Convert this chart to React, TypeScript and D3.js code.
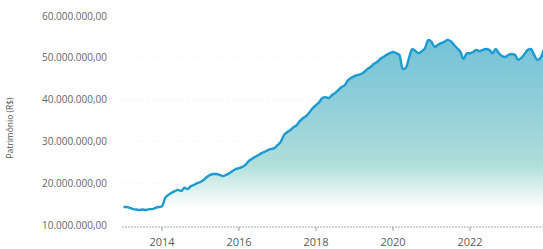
import React from "react";
import * as d3 from "d3";

const startYear = 2013;
const values: number[] = [
  14.3, 14.3, 14.1, 13.8, 13.7, 13.6, 13.7, 13.6, 13.8, 13.8, 14.1, 14.3,
  14.5, 16.5, 17.2, 17.7, 18.1, 18.4, 18.1, 18.9, 18.6, 19.3, 19.6, 20.0,
  20.3, 20.8, 21.5, 22.0, 22.2, 22.2, 22.0, 21.7, 22.0, 22.4, 22.9, 23.4,
  23.6, 23.9, 24.4, 25.3, 25.8, 26.3, 26.7, 27.2, 27.5, 27.9, 28.2, 28.4,
  29.1, 29.9, 31.5, 32.2, 32.7, 33.4, 33.9, 34.9, 35.6, 36.1, 37.0, 38.0,
  38.7, 39.4, 40.4, 40.6, 40.4, 41.1, 41.6, 42.3, 43.0, 43.5, 44.7, 45.2,
  45.6, 45.9, 46.1, 46.6, 47.3, 47.8, 48.5, 49.0, 49.7, 50.2, 50.7, 51.1,
  51.4, 51.1, 50.7, 47.3, 47.6, 50.0, 52.1, 51.6, 51.1, 51.6, 52.3, 54.3,
  53.8, 52.6, 53.1, 53.5, 53.8, 54.3, 54.0, 53.1, 52.3, 51.4, 49.7, 51.1,
  51.1, 51.4, 51.9, 51.6, 51.9, 52.1, 51.9, 51.1, 52.1, 51.1, 50.4, 50.2,
  50.7, 50.9, 50.7, 49.5, 50.0, 50.9, 51.9, 52.1, 50.7, 49.5, 50.0, 51.9,
];
const yTicks: number[] = [10, 20, 30, 40, 50, 60];
const yTickLabels: string[] = [
  "10.000.000,00",
  "20.000.000,00",
  "30.000.000,00",
  "40.000.000,00",
  "50.000.000,00",
  "60.000.000,00",
];
const xTicks: number[] = [2014, 2016, 2018, 2020, 2022];
const yTitle = "Patrimônio (R$)";

const W = 543;
const H = 249;

export default function App() {
  const x = d3.scaleLinear().domain([2014, 2022]).range([162, 470]);
  const y = d3.scaleLinear().domain([10, 60]).range([225, 16]);
  const data = values.map((v, i) => ({ t: startYear + i / 12, v }));
  const baseY = 227;
  const line = d3
    .line<{ t: number; v: number }>()
    .x((d) => x(d.t))
    .y((d) => y(d.v))
    .curve(d3.curveMonotoneX);
  const area = d3
    .area<{ t: number; v: number }>()
    .x((d) => x(d.t))
    .y0(baseY)
    .y1((d) => y(d.v))
    .curve(d3.curveMonotoneX);
  const font = "'Open Sans', 'DejaVu Sans', sans-serif";
  return (
    <svg
      width={W}
      height={H}
      style={{ position: "absolute", left: 0, top: 0, background: "#fff" }}
    >
      <defs>
        <linearGradient id="fillGrad" gradientUnits="userSpaceOnUse" x1="0" y1="50" x2="0" y2="208">
          <stop offset="0" stopColor="#78c4d7" />
          <stop offset="0.38" stopColor="#93d0d9" />
          <stop offset="0.72" stopColor="#afdeda" />
          <stop offset="0.86" stopColor="#d8efec" />
          <stop offset="1" stopColor="#ffffff" />
        </linearGradient>
        <clipPath id="plotClip">
          <rect x={0} y={0} width={W} height={H} />
        </clipPath>
      </defs>
      {yTicks.slice(1).map((t) => (
        <line
          key={"g" + t}
          x1={122}
          x2={W}
          y1={y(t)}
          y2={y(t)}
          stroke="#f3f3f3"
          strokeDasharray="2,3"
        />
      ))}
      <g clipPath="url(#plotClip)">
        <path d={area(data) || ""} fill="url(#fillGrad)" />
        <path
          d={line(data) || ""}
          fill="none"
          stroke="#1b9bd1"
          strokeWidth={2.4}
          strokeLinejoin="round"
        />
      </g>
      <line x1={122} x2={W} y1={baseY} y2={baseY} stroke="#aaa9a0" strokeWidth={1} strokeDasharray="2,1" />
      {xTicks.map((t) => (
        <g key={"x" + t}>
          <line x1={x(t)} x2={x(t)} y1={baseY} y2={baseY + 4} stroke="#999" />
          <text
            x={x(t)}
            y={246}
            textAnchor="middle"
            fontFamily={font}
            fontSize={11}
            fill="#5a5a5a"
          >
            {t}
          </text>
        </g>
      ))}
      {yTicks.map((t, i) => (
        <text
          key={"y" + t}
          x={107}
          y={y(t)}
          dy="0.35em"
          textAnchor="end"
          fontFamily={font}
          fontSize={10}
          fill="#666"
        >
          {yTickLabels[i]}
        </text>
      ))}
      <text
        transform={`translate(13,${128}) rotate(-90)`}
        textAnchor="middle"
        fontFamily={font}
        fontSize={8.5}
        fill="#555"
      >
        {yTitle}
      </text>
    </svg>
  );
}
